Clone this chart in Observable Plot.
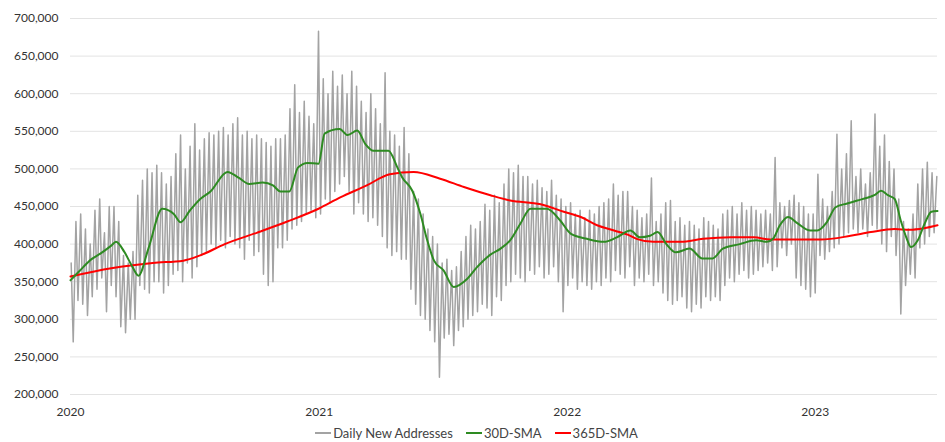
<!DOCTYPE html>
<html>
<head>
<meta charset="utf-8">
<script src="https://cdn.jsdelivr.net/npm/d3@7"></script>
<script src="https://cdn.jsdelivr.net/npm/@observablehq/plot@0.6"></script>
<style>
  body { margin: 0; background: #fff; font-family: Lato, "Open Sans", sans-serif; }
  #chart svg { display: block; }
  #legend { height: 18px; line-height: 18px; font-size: 13px; color: #444; display: flex; justify-content: center; gap: 13px; padding-left: 8px; }
  .item { display: flex; align-items: center; }
  .sw { display: inline-block; width: 16px; height: 2px; margin-right: 2px; }
</style>
</head>
<body>
<div id="chart"></div>
<div id="legend"></div>
<script>
// Weekly highs and lows of daily new addresses (thousands), from 2020-01-01 on
const dailyHighK = [
  375,430,440,420,400, 445,460,415,450, 450,430,385,375, 390,465,485,500,495, 505,495,480,490, 520,545,500,530,
  560,525,540,548,545, 550,555,545,560, 568,545,550,540, 545,540,535,530,540, 540,545,580,612, 575,590,570,560,
  683,620,600,630,610, 625,600,630,610, 590,575,600,580, 560,628,550,545,530, 555,520,470,460, 440,420,410,400,
  375,380,365,370,390, 410,425,420,430, 453,445,465,455, 480,500,495,505,490, 490,480,485,475, 470,485,465,460,
  450,455,440,445,435, 445,440,450,455, 460,480,465,470, 470,450,445,435,440, 488,430,440,455, 458,430,435,425,
  430,425,420,435,430, 425,420,440,445, 450,440,455,445, 450,445,440,445,440, 515,455,450,458, 465,455,450,440,
  440,493,460,450,470, 546,500,520,564, 490,500,480,495, 573,530,545,510,500, 460,430,420,440, 480,500,509,495, 490
];
const dailyLowK = [
  270,325,320,305,330, 340,355,310,345, 330,290,282,300, 300,345,340,335,350, 350,335,345,360, 365,350,375,355,
  370,385,390,400,395, 405,395,410,400, 395,380,405,385, 390,360,345,350,395, 395,405,420,425, 430,440,445,435,
  440,460,455,470,480, 490,470,440,455, 440,430,435,425, 410,395,385,390,380, 380,340,320,305, 300,285,270,223,
  275,280,265,285,290, 300,305,310,320, 315,305,330,325, 345,350,360,355,350, 365,360,370,355, 360,370,350,310,
  345,355,340,350,345, 340,350,345,355, 350,365,360,355, 370,345,355,350,360, 345,350,335,325, 320,325,330,315,
  310,320,315,330,325, 330,325,345,355, 350,360,365,355, 360,365,370,375,365, 370,395,385,400, 355,345,340,330,
  335,385,380,390,395, 400,410,415,420, 415,420,410,425, 420,400,390,410,385, 307,345,360,355, 395,400,410,415
];

const sma30Dates = ["2020-01-01","2020-01-15","2020-02-01","2020-02-15","2020-03-01","2020-03-08","2020-03-20","2020-04-01","2020-04-10","2020-04-25","2020-05-15","2020-06-01","2020-06-11","2020-06-25","2020-07-10","2020-07-25","2020-08-19","2020-09-05","2020-09-20","2020-10-10","2020-10-25","2020-11-05","2020-11-18","2020-12-01","2020-12-15","2020-12-31","2021-01-09","2021-01-31","2021-02-12","2021-02-26","2021-03-10","2021-03-22","2021-04-13","2021-04-26","2021-05-03","2021-05-18","2021-05-30","2021-06-09","2021-06-19","2021-07-03","2021-07-18","2021-08-07","2021-08-21","2021-09-10","2021-09-25","2021-10-09","2021-10-24","2021-11-08","2021-12-02","2021-12-22","2022-01-06","2022-01-30","2022-02-24","2022-03-15","2022-04-04","2022-04-18","2022-05-03","2022-05-14","2022-05-27","2022-06-10","2022-06-30","2022-07-19","2022-08-03","2022-08-18","2022-09-12","2022-10-06","2022-10-22","2022-10-31","2022-11-10","2022-11-22","2022-12-04","2022-12-25","2023-01-04","2023-01-18","2023-01-31","2023-02-17","2023-03-04","2023-03-20","2023-03-29","2023-04-08","2023-04-18","2023-04-28","2023-05-07","2023-05-15","2023-05-22","2023-06-01","2023-06-11","2023-06-21","2023-06-30"];
const sma30K = [352,365,380,388,398,403,390,370,358,395,447,440,429,445,460,470,496,488,480,482,478,470,470,502,508,507,547,553,545,551,533,524,524,502,489,471,440,405,378,365,343,354,369,386,394,405,427,447,447,431,414,407,403,409,418,409,411,416,400,389,394,381,381,394,400,405,403,407,425,436,429,418,418,429,449,454,458,462,465,471,465,460,431,409,396,405,427,443,444];

const sma365Dates = ["2020-01-01","2020-03-01","2020-05-01","2020-06-15","2020-07-10","2020-08-15","2020-10-01","2020-11-15","2020-12-31","2021-02-01","2021-03-12","2021-04-15","2021-05-20","2021-06-28","2021-08-02","2021-09-10","2021-10-09","2021-11-23","2021-12-27","2022-01-21","2022-02-14","2022-03-11","2022-04-04","2022-04-13","2022-05-08","2022-06-17","2022-07-20","2022-08-30","2022-10-03","2022-10-27","2022-11-20","2023-01-09","2023-02-22","2023-03-24","2023-04-28","2023-05-20","2023-06-10","2023-06-30"];
const sma365K = [357,368,375,378,385,400,415,430,447,462,478,493,496,487,476,465,458,453,443,436,425,418,411,407,403,403,407,409,409,406,406,406,411,416,420,419,421,425];

const yTicks = [200000,250000,300000,350000,400000,450000,500000,550000,600000,650000,700000];
const xTicks = ["2020-01-01","2021-01-01","2022-01-01","2023-01-01"];

const series = [
  {name: "Daily New Addresses", color: "#a3a3a3", width: 1.5},
  {name: "30D-SMA", color: "#2e8b22", width: 2},
  {name: "365D-SMA", color: "#ff0000", width: 2}
];

const start = new Date(Date.UTC(2020, 0, 1));
const daily = [];
dailyHighK.forEach((h, i) => {
  daily.push({date: d3.utcDay.offset(start, 7 * i + 1), value: h * 1000});
  if (i < dailyLowK.length) daily.push({date: d3.utcDay.offset(start, 7 * i + 4), value: dailyLowK[i] * 1000});
});
const sma30 = sma30Dates.map((d, i) => ({date: new Date(d), value: sma30K[i] * 1000}));
const sma365 = sma365Dates.map((d, i) => ({date: new Date(d), value: sma365K[i] * 1000}));

const chart = Plot.plot({
  width: 945,
  height: 424,
  marginTop: 18,
  marginBottom: 30,
  marginLeft: 70,
  marginRight: 8,
  style: {fontFamily: "Lato, 'Open Sans', sans-serif", fontSize: "12px", color: "#333"},
  x: {type: "utc", domain: [new Date("2020-01-01"), new Date("2023-06-30")], ticks: xTicks.map(d => new Date(d)), tickFormat: d3.utcFormat("%Y"), tickSize: 0, tickPadding: 13, label: null},
  y: {domain: [200000, 700000], ticks: yTicks, tickFormat: d3.format(","), tickSize: 0, tickPadding: 12, label: null},
  marks: [
    Plot.gridY(yTicks, {stroke: "#e3e3e3", strokeOpacity: 1, strokeWidth: 1}),
    Plot.line(daily, {x: "date", y: "value", stroke: series[0].color, strokeWidth: series[0].width}),
    Plot.line(sma365, {x: "date", y: "value", stroke: series[2].color, strokeWidth: series[2].width, curve: "monotone-x"}),
    Plot.line(sma30, {x: "date", y: "value", stroke: series[1].color, strokeWidth: series[1].width, curve: "monotone-x"})
  ]
});
document.getElementById("chart").appendChild(chart);

const legend = document.getElementById("legend");
series.forEach(s => {
  const it = document.createElement("span");
  it.className = "item";
  const sw = document.createElement("span");
  sw.className = "sw";
  sw.style.background = s.color;
  it.appendChild(sw);
  it.appendChild(document.createTextNode(s.name));
  legend.appendChild(it);
});
</script>
</body>
</html>
